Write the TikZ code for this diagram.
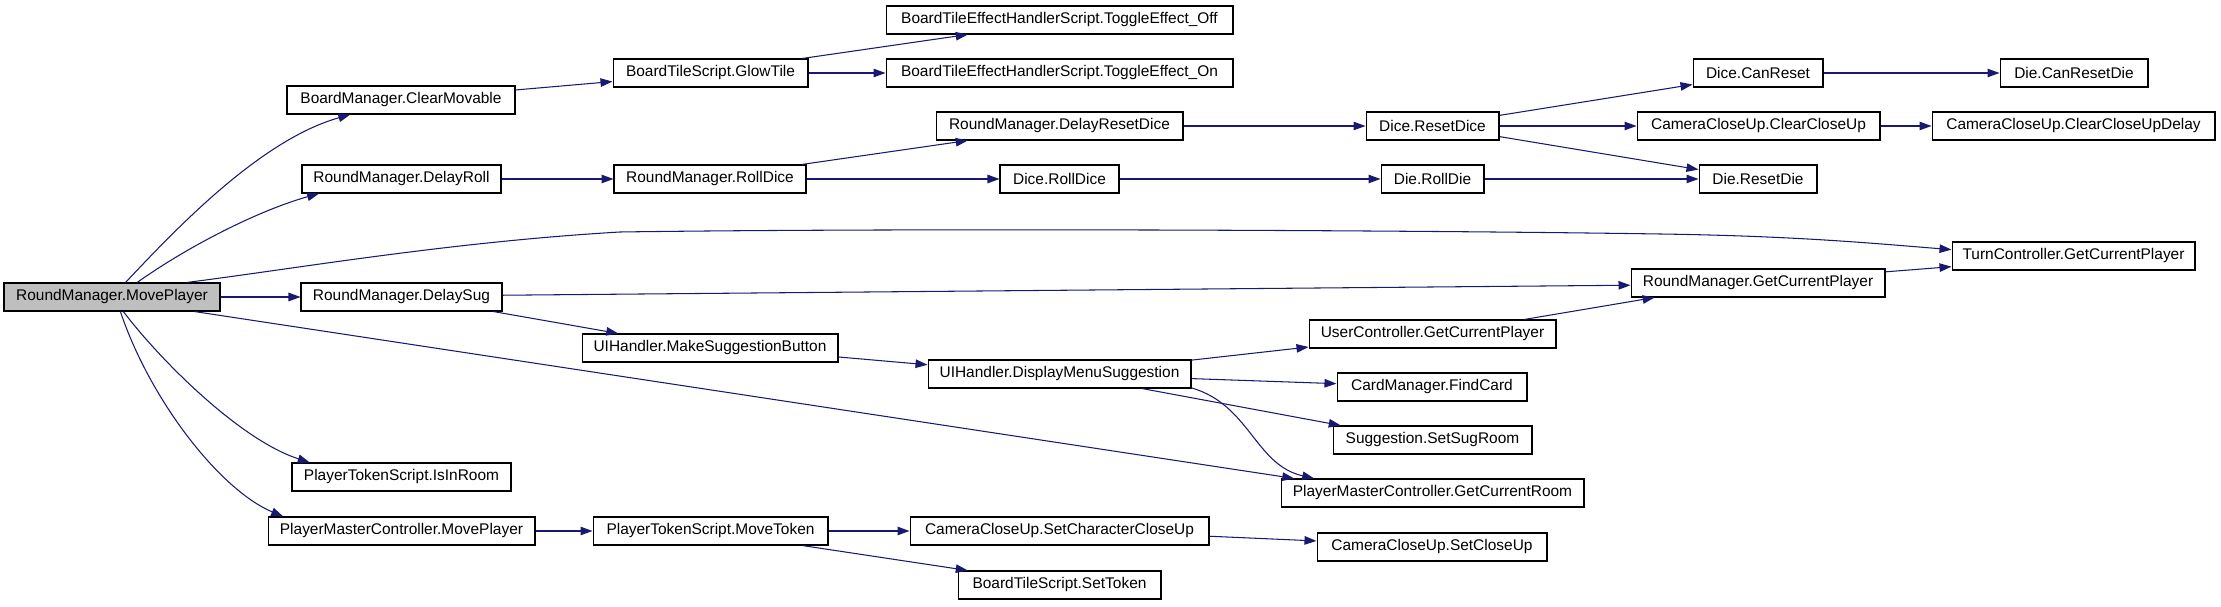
\documentclass[tikz,border=0pt]{standalone}
\usepackage{fontspec}
\setmainfont{Liberation Sans}
\usetikzlibrary{arrows.meta}
\definecolor{edgeblue}{HTML}{191970}
\definecolor{rootgray}{HTML}{BFBFBF}

\begin{document}
\begin{tikzpicture}[
  x=0.02cm,y=-0.02cm,
  box/.style={draw,line width=0.6pt,minimum height=0.56cm,inner sep=0pt,font=\fontsize{8.8}{10}\selectfont},
  arr/.style={-{Triangle[length=0.24cm,width=0.17cm]},line width=0.6pt,draw=edgeblue}
]
\useasboundingbox (0,0) rectangle (2221,607);

% root and first level
\node[box,fill=rootgray,minimum width=4.32cm] (move) at (112,297) {RoundManager.MovePlayer};
\node[box,minimum width=4.56cm] (clear)  at (401,100)   {BoardManager.ClearMovable};
\node[box,minimum width=3.98cm] (droll)  at (401.5,179) {RoundManager.DelayRoll};
\node[box,minimum width=4.02cm] (dsug)   at (401.5,297) {RoundManager.DelaySug};
\node[box,minimum width=4.38cm] (inroom) at (401.5,477) {PlayerTokenScript.IsInRoom};
\node[box,minimum width=5.34cm] (pmove)  at (401.5,531) {PlayerMasterController.MovePlayer};

% second level
\node[box,minimum width=3.9cm]  (glow)     at (710.5,73)  {BoardTileScript.GlowTile};
\node[box,minimum width=3.84cm] (rolldice) at (710,179)   {RoundManager.RollDice};
\node[box,minimum width=5.12cm] (button)   at (710,348)   {UIHandler.MakeSuggestionButton};
\node[box,minimum width=4.7cm]  (token)    at (710.5,531) {PlayerTokenScript.MoveToken};

% third level
\node[box,minimum width=6.94cm] (off)        at (1059.5,20)  {BoardTileEffectHandlerScript.ToggleEffect\_Off};
\node[box,minimum width=6.94cm] (on)         at (1059.5,73)  {BoardTileEffectHandlerScript.ToggleEffect\_On};
\node[box,minimum width=4.94cm] (delayreset) at (1059.5,126) {RoundManager.DelayResetDice};
\node[box,minimum width=2.38cm] (diceroll)   at (1059.5,179) {Dice.RollDice};
\node[box,minimum width=5.26cm] (menu)       at (1059.5,374) {UIHandler.DisplayMenuSuggestion};
\node[box,minimum width=5.98cm] (charcu)     at (1059.5,531) {CameraCloseUp.SetCharacterCloseUp};
\node[box,minimum width=4.06cm] (settoken)   at (1059.5,585) {BoardTileScript.SetToken};

% fourth level
\node[box,minimum width=2.66cm] (resetdice) at (1432.5,126) {Dice.ResetDice};
\node[box,minimum width=2.06cm] (rolldie)   at (1432.5,179) {Die.RollDie};
\node[box,minimum width=4.94cm] (user)      at (1432.5,334) {UserController.GetCurrentPlayer};
\node[box,minimum width=3.8cm]  (card)      at (1432,387)   {CardManager.FindCard};
\node[box,minimum width=3.98cm] (sugroom)   at (1432.5,440) {Suggestion.SetSugRoom};
\node[box,minimum width=6.06cm] (room)      at (1432.5,493) {PlayerMasterController.GetCurrentRoom};
\node[box,minimum width=4.6cm]  (closeup)   at (1432,547)   {CameraCloseUp.SetCloseUp};

% fifth and sixth level
\node[box,minimum width=2.6cm]  (canreset)    at (1758,73)    {Dice.CanReset};
\node[box,minimum width=4.86cm] (clearcu)     at (1758.5,126) {CameraCloseUp.ClearCloseUp};
\node[box,minimum width=2.36cm] (resetdie)    at (1758,179)   {Die.ResetDie};
\node[box,minimum width=5.08cm] (getplayer)   at (1758,283)   {RoundManager.GetCurrentPlayer};
\node[box,minimum width=2.96cm] (canresetdie) at (2074,73)    {Die.CanResetDie};
\node[box,minimum width=5.66cm] (cludelay)    at (2073.5,126) {CameraCloseUp.ClearCloseUpDelay};
\node[box,minimum width=4.86cm] (turn)        at (2073.5,256) {TurnController.GetCurrentPlayer};

% calls out of RoundManager.MovePlayer
\draw[arr] (move.47) .. controls (175,230) and (260,140) .. (clear.196);
\draw[arr] (move.30) .. controls (190,245) and (260,210) .. (droll.190);
\draw[arr] (move.11) .. controls (300,268) and (450,242) .. (620,232)
  .. controls (900,228) and (1400,230) .. (1660,234)
  .. controls (1800,236) and (1880,244) .. (turn.177);
\draw[arr] (move.east) -- (dsug.west);
\draw[arr] (move.350) -- (room.174);
\draw[arr] (move.308) .. controls (160,360) and (240,440) .. (inroom.171);
\draw[arr] (move.300) .. controls (150,400) and (220,490) .. (pmove.173);

% board tiles
\draw[arr] (clear.5) -- (glow.185);
\draw[arr] (glow.9) -- (off.189);
\draw[arr] (glow.east) -- (on.west);

% dice
\draw[arr] (droll.east) -- (rolldice.west);
\draw[arr] (rolldice.9) -- (delayreset.189);
\draw[arr] (rolldice.east) -- (diceroll.west);
\draw[arr] (delayreset.east) -- (resetdice.west);
\draw[arr] (resetdice.9) -- (canreset.190);
\draw[arr] (resetdice.east) -- (clearcu.west);
\draw[arr] (resetdice.351) -- (resetdie.171);
\draw[arr] (canreset.east) -- (canresetdie.west);
\draw[arr] (clearcu.east) -- (cludelay.west);
\draw[arr] (diceroll.east) -- (rolldie.west);
\draw[arr] (rolldie.east) -- (resetdie.west);

% suggestion menu
\draw[arr] (dsug.1) -- (getplayer.181);
\draw[arr] (dsug.351) -- (button.171);
\draw[arr] (button.356) -- (menu.176);
\draw[arr] (menu.6) -- (user.186);
\draw[arr] (menu.358) -- (card.178);
\draw[arr] (menu.350) -- (sugroom.171);
\draw[arr] (menu.354) .. controls (1250,405) and (1255,465) .. (room.173);
\draw[arr] (user.9) -- (getplayer.188);
\draw[arr] (getplayer.5) -- (turn.185);

% player token
\draw[arr] (pmove.east) -- (token.west);
\draw[arr] (token.east) -- (charcu.west);
\draw[arr] (token.351) -- (settoken.171);
\draw[arr] (charcu.358) -- (closeup.177);

\end{tikzpicture}
\end{document}
